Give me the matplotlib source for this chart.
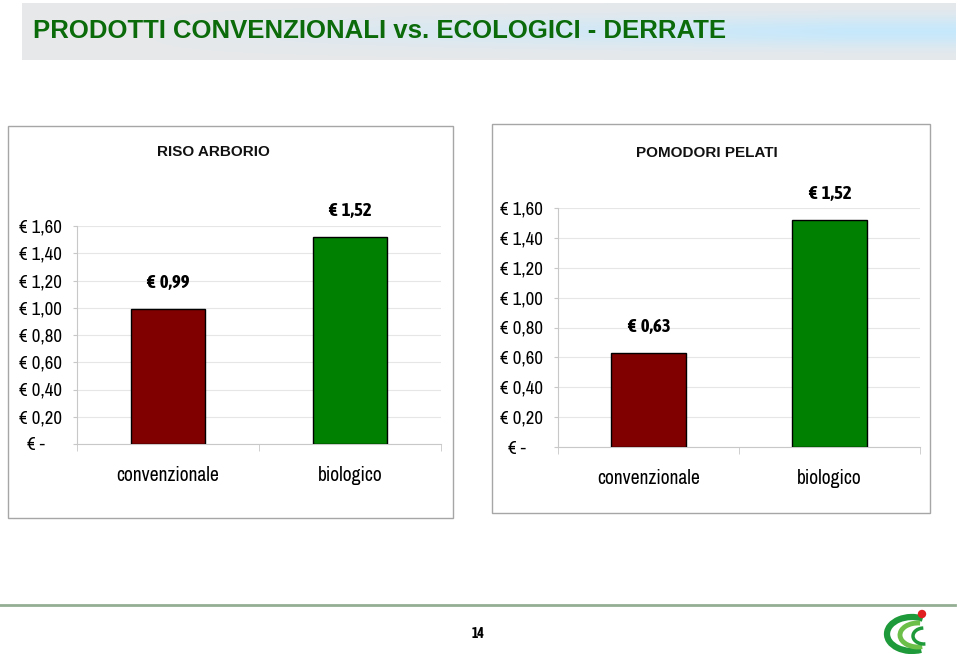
import numpy as np
import matplotlib
matplotlib.use('Agg')
from matplotlib import pyplot as plt
from matplotlib import font_manager
from matplotlib.patches import Rectangle, Arc, Circle
from matplotlib.ticker import FuncFormatter

W, H = 960, 654

title = 'PRODOTTI CONVENZIONALI vs. ECOLOGICI - DERRATE'
categories = ['convenzionale', 'biologico']
bar_colors = ['#800000', '#008000']
riso_title = 'RISO ARBORIO'
riso_prices = [0.99, 1.52]
pomodori_title = 'POMODORI PELATI'
pomodori_prices = [0.63, 1.52]
y_ticks = [0, 0.2, 0.4, 0.6, 0.8, 1.0, 1.2, 1.4, 1.6]
page_number = '14'

# pick an Arial Narrow look-alike that is actually installed
_fonts = font_manager.fontManager.ttflist
_names = {f.name for f in _fonts}


def _bold_ok(name):
    for f in _fonts:
        w = f.weight if isinstance(f.weight, int) else {'bold': 700}.get(f.weight, 400)
        if f.name == name and w >= 600:
            return True
    return False


NARROW = next((n for n in ['Liberation Sans Narrow', 'Archivo Narrow', 'Asap Condensed']
               if n in _names), 'DejaVu Sans')
NARROW_B = next((n for n in ['Liberation Sans Narrow', 'Archivo Narrow', 'Asap Condensed']
                 if n in _names and _bold_ok(n)), 'DejaVu Sans')


def px(x0, y0, x1, y1):
    # pixel box (top-left origin) -> figure fraction rect
    return [x0 / W, (H - y1) / H, (x1 - x0) / W, (y1 - y0) / H]


def euro(v, pos=None):
    if abs(v) < 1e-9:
        return '€ -    '
    return '€ ' + ('%.2f' % v).replace('.', ',')


def draw_panel(fig, box, ax_rect, name, name_xy, values):
    x0, y0, x1, y1 = box
    fig.patches.append(Rectangle((x0 / W, (H - y1) / H), (x1 - x0) / W, (y1 - y0) / H,
                                 transform=fig.transFigure, fill=False,
                                 edgecolor='#a6a6a6', lw=1.0))
    fig.text(name_xy[0] / W, 1 - name_xy[1] / H, name, ha='center', va='center',
             fontsize=11, fontweight='bold', family='Liberation Sans', color='#111111')
    ax = fig.add_axes(px(*ax_rect))
    x = np.arange(len(categories))
    bars = ax.bar(x, values, width=0.41, color=bar_colors, edgecolor='black', lw=1.0, zorder=3)
    ax.set_xlim(-0.5, len(categories) - 0.5)
    ax.set_ylim(0, 1.6)
    ax.set_yticks(y_ticks)
    ax.yaxis.set_major_formatter(FuncFormatter(euro))
    ax.grid(axis='y', color='#e6e6e6', lw=0.8, zorder=0)
    for s in ['top', 'right']:
        ax.spines[s].set_visible(False)
    ax.spines['left'].set_color('#c8c8c8')
    ax.spines['bottom'].set_color('#c8c8c8')
    ax.tick_params(axis='y', length=3, color='#c8c8c8', pad=8, labelsize=13.5)
    for lab in ax.get_yticklabels():
        lab.set_family(NARROW)
    ax.set_xticks(x)
    ax.set_xticklabels(categories, family=NARROW, fontsize=14)
    ax.tick_params(axis='x', length=0, pad=16)
    ax.set_xticks(np.arange(len(categories) + 1) - 0.5, minor=True)
    ax.tick_params(axis='x', which='minor', length=5, color='#c8c8c8', direction='out')
    for b, v in zip(bars, values):
        ax.annotate(euro(v).replace(' ', '  '), (b.get_x() + b.get_width() / 2, v), xytext=(0, 19),
                    textcoords='offset points', ha='center', va='center',
                    family=NARROW_B, fontsize=13.5, fontweight='bold', annotation_clip=False)
    return ax


fig = plt.figure(figsize=(W / 100, H / 100), dpi=100)
fig.patch.set_facecolor('white')

# title banner with gradient
bax = fig.add_axes(px(22, 3, 955, 60))
gx = np.linspace(0, 1, 300)[None, :]
gy = np.linspace(-1, 1, 60)[:, None]
t = np.clip(gx * 1.3 - 0.15, 0, 1) * np.exp(-(gy / 0.55) ** 2)
gray = np.array([0.905, 0.91, 0.92])
blue = np.array([0.78, 0.91, 0.985])
img = gray[None, None, :] * (1 - t[..., None]) + blue[None, None, :] * t[..., None]
bax.imshow(img, aspect='auto', extent=[0, 1, 0, 1])
bax.set_axis_off()
fig.text(33 / W, 1 - 31 / H, title, ha='left', va='center', fontsize=18.5,
         fontweight='bold', family='Liberation Sans', color='#0b6b0b')

draw_panel(fig, (8, 126, 453, 518), (77, 226, 441, 444), riso_title, (213, 152), riso_prices)
draw_panel(fig, (492, 124, 930, 513), (558, 208, 920, 447), pomodori_title, (707, 153), pomodori_prices)

# footer
fig.add_artist(plt.Line2D([0, 955 / W], [1 - 605 / H] * 2, color='#94ae94', lw=2))
fig.text(478 / W, 1 - 634 / H, page_number, ha='center', va='center', fontsize=10,
         family=NARROW_B, fontweight='bold')

# small logo
lax = fig.add_axes(px(876, 604, 960, 654))
lax.set_xlim(0, 84)
lax.set_ylim(0, 50)
lax.set_aspect('equal')
lax.set_axis_off()
lax.add_patch(Arc((36, 20), 50, 34, theta1=55, theta2=300, color='#1e9a3a', lw=4.5))
lax.add_patch(Arc((42, 19), 36, 24, theta1=80, theta2=290, color='#6cc04a', lw=3.5))
lax.add_patch(Arc((48, 18), 22, 16, theta1=95, theta2=280, color='#1e9a3a', lw=2.5))
lax.add_patch(Circle((46, 40), 3.5, color='#e02020'))

fig.savefig('out.png', dpi=100)
